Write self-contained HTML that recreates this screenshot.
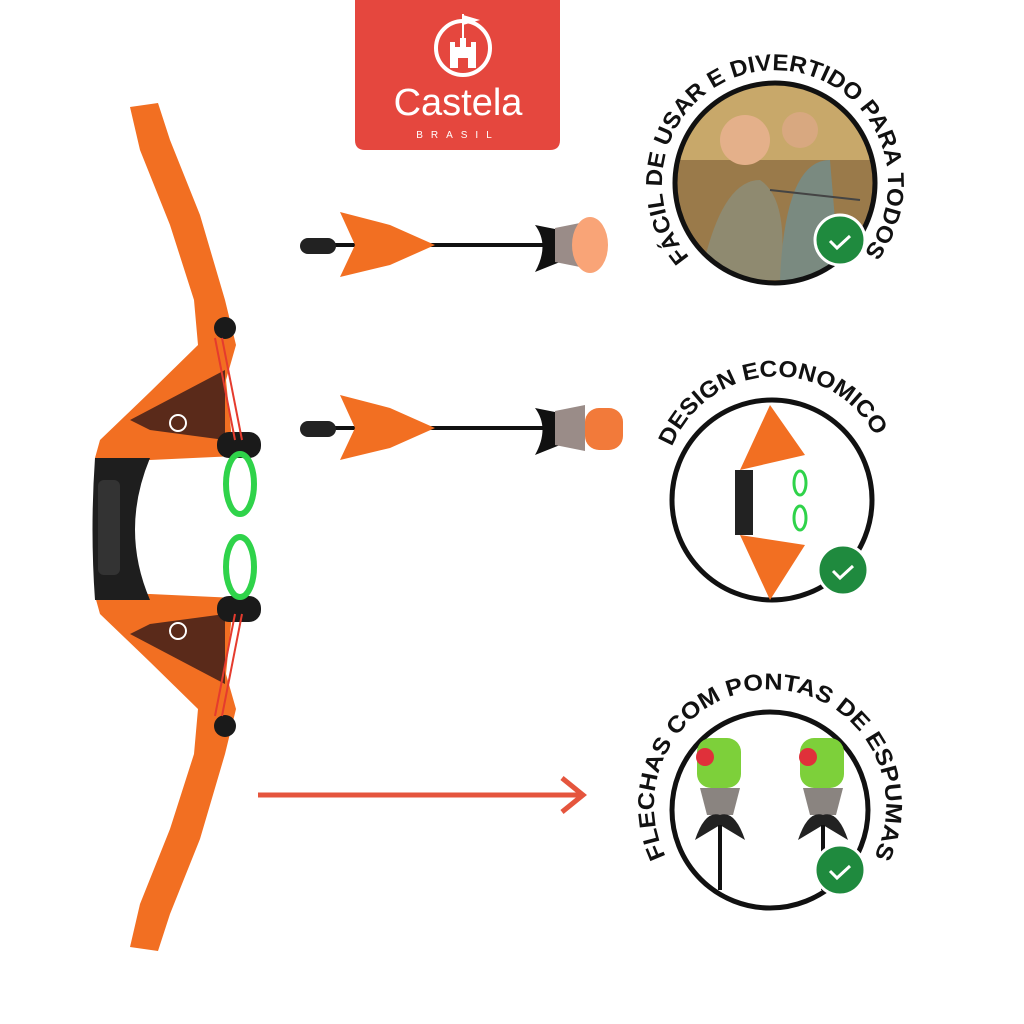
<!DOCTYPE html>
<html><head><style>html,body{margin:0;padding:0;background:#fff;width:1024px;height:1024px;overflow:hidden}</style></head>
<body>
<svg width="1024" height="1024" viewBox="0 0 1024 1024" xmlns="http://www.w3.org/2000/svg" font-family="Liberation Sans, sans-serif">
<rect width="1024" height="1024" fill="#fff"/>
<path d="M355 0 H560 V140 Q560 150 550 150 H365 Q355 150 355 140 Z" fill="#e5473e"/>
<circle cx="463" cy="48" r="27" fill="none" stroke="#fff" stroke-width="4"/>
<path d="M450 68 V42 H455 V47 H460 V38 H466 V47 H471 V42 H476 V68 H468 V58 H458 V68 Z" fill="#fff"/>
<line x1="463" y1="14" x2="463" y2="38" stroke="#fff" stroke-width="2"/>
<path d="M463 15 L480 20 L463 25Z" fill="#fff"/>
<text x="458" y="115" font-size="38" fill="#fff" text-anchor="middle">Castela</text>
<text x="458" y="138" font-size="10" fill="#fff" text-anchor="middle" letter-spacing="8">BRASIL</text>
<g id="limb">
<path d="M130,107 L158,103 L170,140 L200,215 L225,300 L236,345 L226,380 L232,440 L236,456 L150,460 L95,458 L100,440 L150,392 L198,345 L194,300 L170,225 L140,150 Z" fill="#f26f22"/>
<path d="M130,420 L225,370 L225,440 L150,430 Z" fill="#5a2a1a"/>
<circle cx="178" cy="423" r="8" fill="none" stroke="#fff" stroke-width="2"/>
<circle cx="225" cy="328" r="11" fill="#1a1a1a"/>
<rect x="217" y="432" width="44" height="26" rx="12" fill="#1a1a1a"/>
<line x1="215" y1="338" x2="235" y2="440" stroke="#e53b2e" stroke-width="2"/>
<line x1="222" y1="338" x2="242" y2="440" stroke="#e53b2e" stroke-width="2"/>
</g>
<use href="#limb" transform="translate(0,1054) scale(1,-1)"/>
<path d="M95,458 L150,458 Q120,530 150,600 L95,600 Q90,530 95,458Z" fill="#1e1e1e"/>
<rect x="98" y="480" width="22" height="95" rx="6" fill="#333"/>
<ellipse cx="240" cy="484" rx="14" ry="30" fill="none" stroke="#2fd34a" stroke-width="6"/>
<ellipse cx="240" cy="567" rx="14" ry="30" fill="none" stroke="#2fd34a" stroke-width="6"/>
<g id="arrow">
<line x1="310" y1="245" x2="560" y2="245" stroke="#111" stroke-width="4"/>
<rect x="300" y="238" width="36" height="16" rx="8" fill="#222"/>
<path d="M340 212 L390 225 L435 245 L390 265 L340 277 L355 245 Z" fill="#f26f22"/>
<path d="M535 225 Q550 245 535 272 L560 262 L560 230Z" fill="#111"/>
<path d="M555 228 L585 222 L585 268 L555 262 Z" fill="#9a8c88"/>
</g>
<ellipse cx="590" cy="245" rx="18" ry="28" fill="#f9a477"/>
<use href="#arrow" transform="translate(0,183)"/>
<rect x="585" y="408" width="38" height="42" rx="14" fill="#f27a3a"/>
<line x1="258" y1="795" x2="580" y2="795" stroke="#e5553d" stroke-width="5"/>
<path d="M562 778 L583 795 L562 812" fill="none" stroke="#e5553d" stroke-width="5"/>
<defs>
<clipPath id="c1"><circle cx="775" cy="183" r="100"/></clipPath>
<path id="t1" d="M695,263 A113,113 0 1 1 855,263"/>
<path id="t2" d="M672,447 A112,112 0 0 1 877,440"/>
<path id="t3" d="M675,872 A116,116 0 1 1 865,872"/>
</defs>
<g clip-path="url(#c1)">
<rect x="670" y="80" width="210" height="210" fill="#9a7a4a"/>
<rect x="670" y="80" width="210" height="80" fill="#c8a86a"/>
<circle cx="745" cy="140" r="25" fill="#e4b08a"/>
<path d="M700 280 Q720 180 760 180 Q790 200 780 280Z" fill="#8f8a70"/>
<circle cx="800" cy="130" r="18" fill="#d8a880"/>
<path d="M780 280 Q785 160 830 160 L840 280Z" fill="#7a8a80"/>
<line x1="770" y1="190" x2="860" y2="200" stroke="#444" stroke-width="2"/>
</g>
<circle cx="775" cy="183" r="100" fill="none" stroke="#111" stroke-width="5"/>
<text font-size="23" font-weight="bold" fill="#111"><textPath href="#t1" startOffset="8" textLength="510" lengthAdjust="spacingAndGlyphs">FÁCIL DE USAR E DIVERTIDO PARA TODOS</textPath></text>
<circle cx="772" cy="500" r="100" fill="#fff" stroke="#111" stroke-width="5"/>
<path d="M770 405 L805 455 L740 470 Z M740 535 L805 545 L770 600Z" fill="#f26f22"/>
<rect x="735" y="470" width="18" height="65" fill="#222"/>
<ellipse cx="800" cy="483" rx="6" ry="12" fill="none" stroke="#2fd34a" stroke-width="3"/>
<ellipse cx="800" cy="518" rx="6" ry="12" fill="none" stroke="#2fd34a" stroke-width="3"/>
<text font-size="23" font-weight="bold" fill="#111"><textPath href="#t2" textLength="255" lengthAdjust="spacingAndGlyphs">DESIGN ECONOMICO</textPath></text>
<circle cx="770" cy="810" r="98" fill="#fff" stroke="#111" stroke-width="5"/>
<g id="tip">
<rect x="697" y="738" width="44" height="50" rx="14" fill="#7dd03a"/>
<circle cx="705" cy="757" r="9" fill="#e0303a"/>
<path d="M700 788 L740 788 L733 815 L707 815Z" fill="#8a8480"/>
<path d="M695 840 Q705 810 720 815 Q735 810 745 840 L720 825Z" fill="#222"/>
<line x1="720" y1="825" x2="720" y2="890" stroke="#111" stroke-width="4"/>
</g>
<use href="#tip" transform="translate(103,0)"/>
<text font-size="23" font-weight="bold" fill="#111"><textPath href="#t3" startOffset="18" textLength="470" lengthAdjust="spacingAndGlyphs">FLECHAS COM PONTAS DE ESPUMAS</textPath></text>
<g id="badge">
<circle cx="840" cy="240" r="25" fill="#1f8a3e" stroke="#fff" stroke-width="3"/>
<path d="M830 241 L837 248 L850 236" fill="none" stroke="#fff" stroke-width="3"/>
</g>
<use href="#badge" transform="translate(3,330)"/>
<use href="#badge" transform="translate(0,630)"/>
</svg>
</body></html>
